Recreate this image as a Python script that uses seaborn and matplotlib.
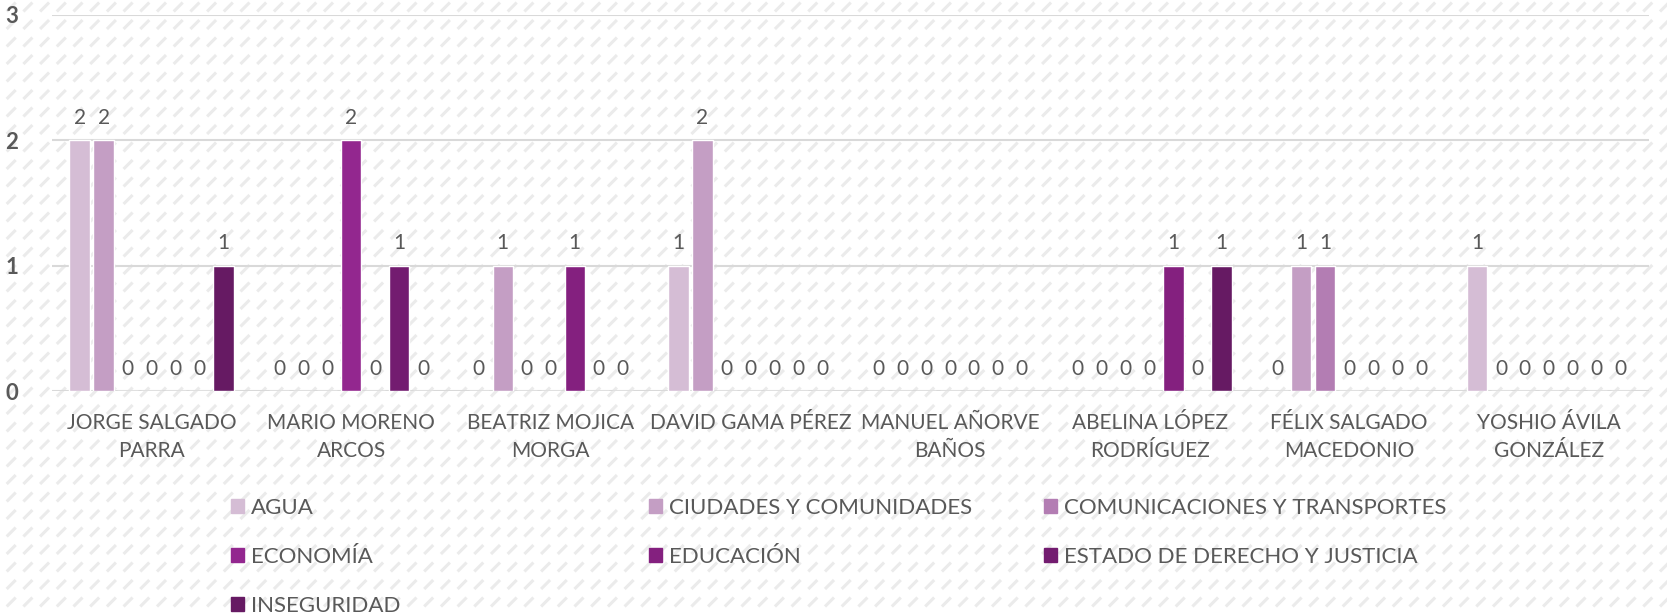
import matplotlib
matplotlib.use("Agg")
import matplotlib.pyplot as plt
import matplotlib.patches as mpatches
from matplotlib.collections import LineCollection
import numpy as np
import pandas as pd
import seaborn as sns

candidatos = ["JORGE SALGADO\nPARRA", "MARIO MORENO\nARCOS", "BEATRIZ MOJICA\nMORGA",
              "DAVID GAMA PÉREZ", "MANUEL AÑORVE\nBAÑOS", "ABELINA LÓPEZ\nRODRÍGUEZ",
              "FÉLIX SALGADO\nMACEDONIO", "YOSHIO ÁVILA\nGONZÁLEZ"]
temas = ["AGUA", "CIUDADES Y COMUNIDADES", "COMUNICACIONES Y TRANSPORTES", "ECONOMÍA",
         "EDUCACIÓN", "ESTADO DE DERECHO Y JUSTICIA", "INSEGURIDAD"]

agua = [2, 0, 0, 1, 0, 0, 0, 1]
ciudades = [2, 0, 1, 2, 0, 0, 1, 0]
comunicaciones = [0, 0, 0, 0, 0, 0, 1, 0]
economia = [0, 2, 0, 0, 0, 0, 0, 0]
educacion = [0, 0, 1, 0, 0, 1, 0, 0]
estado = [0, 1, 0, 0, 0, 0, 0, 0]
inseguridad = [1, 0, 0, 0, 0, 1, 0, 0]

colores = ["#D5BDD5", "#C49EC4", "#B37DB3", "#93278F", "#84207F", "#731C70", "#661A63"]

series = [agua, ciudades, comunicaciones, economia, educacion, estado, inseguridad]
rows = []
for tema, vals in zip(temas, series):
    for cand, v in zip(candidatos, vals):
        rows.append({"candidato": cand, "tema": tema, "valor": v})
df = pd.DataFrame(rows)

sns.set_style("white")
plt.rcParams["font.family"] = ["Lato", "DejaVu Sans"]
txt = "#595959"

W, H = 1667, 614
fig = plt.figure(figsize=(W / 100, H / 100), dpi=100)

# fondo con rayitas diagonales
gx, gy = np.meshgrid(np.arange(-10, W + 10, 16.7), np.arange(-10, H + 10, 17.5))
x0 = gx.ravel() / W
y0 = gy.ravel() / H
segs = np.stack([np.column_stack([x0, y0]),
                 np.column_stack([x0 + 9 / W, y0 + 9 / H])], axis=1)
fig.add_artist(LineCollection(segs, colors="#ebebeb", linewidths=2.2,
                              transform=fig.transFigure, zorder=-10))

ax = fig.add_axes([0.031, 0.363, 0.958, 0.613])
ax.patch.set_alpha(0)

sns.barplot(data=df, x="candidato", y="valor", hue="tema", order=candidatos,
            hue_order=temas, palette=colores, width=0.84, gap=0.15,
            saturation=1, legend=False, ax=ax, zorder=3)

for c in ax.containers:
    ax.bar_label(c, fmt="%d", padding=9, fontsize=15, color=txt)

ax.set_ylim(0, 3)
ax.set_yticks([0, 1, 2, 3])
ax.grid(axis="y", color="#d9d9d9", linewidth=1.5, zorder=0)
ax.set_axisbelow(True)
for s in ax.spines.values():
    s.set_visible(False)
ax.tick_params(axis="y", length=0, pad=24, labelsize=16, labelcolor=txt)
ax.tick_params(axis="x", length=0, pad=16, labelsize=15, labelcolor=txt)
for t in ax.get_yticklabels():
    t.set_fontweight("bold")
for t in ax.get_xticklabels():
    t.set_linespacing(1.45)
ax.set_xlabel("")
ax.set_ylabel("")

# leyenda en tres columnas
handles = [mpatches.Patch(color=c, label=t) for c, t in zip(colores, temas)]
cols_x = [0.133, 0.384, 0.621]
for i, x in enumerate(cols_x):
    hs = handles[i::3]
    leg = fig.legend(handles=hs, loc="upper left", bbox_to_anchor=(x, 0.203),
                     frameon=False, fontsize=16, handlelength=0.6, handleheight=0.6,
                     handletextpad=0.3, labelspacing=1.3, borderaxespad=0)
    for t in leg.get_texts():
        t.set_color(txt)

fig.savefig("out.png", dpi=100, facecolor="white")
